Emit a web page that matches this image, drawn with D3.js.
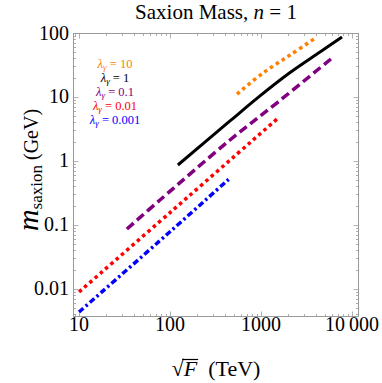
<!DOCTYPE html>
<html>
<head>
<meta charset="utf-8">
<script src="https://cdn.jsdelivr.net/npm/d3@7"></script>
<style>
  html, body { margin: 0; padding: 0; background: #fff; }
  svg { display: block; }
  text { font-family: "Liberation Serif", "Times New Roman", "DejaVu Serif", serif; }
</style>
</head>
<body>
<svg id="chart" width="382" height="383"></svg>
<script>
// sqrt(F) in TeV vs saxion mass in GeV
const lambda10 = [[545, 11.1], [1052, 23.7], [2086, 45.3], [4121, 86.6]];
const lambda1 = [[122, 0.866], [456, 4.22], [975, 10.4], [2086, 24.1], [4450, 50.5], [7762, 86.6]];
const lambda01 = [[33.6, 0.0866], [77.6, 0.246], [456, 2.13], [1538, 8.35], [6030, 40.6]];
const lambda001 = [[10, 0.00898], [105, 0.166], [1500, 4.53]];
const lambda0001 = [[10, 0.00436], [105, 0.0835], [445, 0.523]];

const seriesNames = ["10", "1", "0.1", "0.01", "0.001"];
const seriesData = [lambda10, lambda1, lambda01, lambda001, lambda0001];

const xTicks = [10, 100, 1000, 10000];
const xTickLabels = ["10", "100", "1000", "10\u2009000"];
const yTicks = [0.01, 0.1, 1, 10, 100];
const yTickLabels = ["0.01", "0.1", "1", "10", "100"];

const xDomain = [8.59, 11930];
const yDomain = [0.00365, 100];

// styling per series
const colors = ["#ff8000", "#000000", "#800080", "#ff0000", "#0000ff"];
const dashes = ["3.5,3.5", null, "9,4.5", "3.5,3.5", "6,3,2.5,3"];

const plot = { left: 73, right: 359, top: 33, bottom: 317 };
const svg = d3.select("#chart");
const serif = "'Liberation Serif', 'Times New Roman', 'DejaVu Serif', serif";

const x = d3.scaleLog().domain(xDomain).range([plot.left, plot.right]);
const y = d3.scaleLog().domain(yDomain).range([plot.bottom, plot.top]);

const frameColor = "#9a9a9a";

// minor + major ticks on all four sides (Mathematica frame style)
function minorsFor(domain) {
  const out = [];
  const lo = Math.floor(Math.log10(domain[0])), hi = Math.ceil(Math.log10(domain[1]));
  for (let e = lo; e <= hi; e++) {
    for (let m = 1; m <= 9; m++) {
      const v = m * Math.pow(10, e);
      if (v >= domain[0] && v <= domain[1]) out.push({ v, major: m === 1 });
    }
  }
  return out;
}

const ticksG = svg.append("g").attr("stroke", frameColor).attr("stroke-width", 0.8);
minorsFor(xDomain).forEach(t => {
  const len = t.major ? 5.5 : 3;
  const px = Math.round(x(t.v)) + 0.5;
  ticksG.append("line").attr("x1", px).attr("x2", px).attr("y1", plot.bottom).attr("y2", plot.bottom - len);
  ticksG.append("line").attr("x1", px).attr("x2", px).attr("y1", plot.top).attr("y2", plot.top + len);
});
minorsFor(yDomain).forEach(t => {
  const len = t.major ? 5.5 : 3;
  const py = Math.round(y(t.v)) + 0.5;
  ticksG.append("line").attr("x1", plot.left).attr("x2", plot.left + len).attr("y1", py).attr("y2", py);
  ticksG.append("line").attr("x1", plot.right).attr("x2", plot.right - len).attr("y1", py).attr("y2", py);
});

// frame
svg.append("rect")
  .attr("x", plot.left + 0.5).attr("y", plot.top + 0.5)
  .attr("width", plot.right - plot.left - 1).attr("height", plot.bottom - plot.top - 1)
  .attr("fill", "none").attr("stroke", frameColor).attr("stroke-width", 1);

// tick labels
svg.append("g").selectAll("text").data(xTicks).join("text")
  .attr("x", d => x(d)).attr("y", 331)
  .attr("text-anchor", "middle").attr("font-size", 20).attr("font-family", serif)
  .text((d, i) => xTickLabels[i]);

svg.append("g").selectAll("text").data(yTicks).join("text")
  .attr("x", 69).attr("y", d => y(d) + 6.5)
  .attr("text-anchor", "end").attr("font-size", 20).attr("font-family", serif)
  .text((d, i) => yTickLabels[i]);

// curves
const line = d3.line()
  .x(d => x(d[0])).y(d => y(d[1]))
  .curve(d3.curveCatmullRom.alpha(0.5));

const curvesG = svg.append("g");
seriesData.forEach((data, i) => {
  curvesG.append("path")
    .datum(data)
    .attr("d", line)
    .attr("fill", "none")
    .attr("stroke", colors[i])
    .attr("stroke-width", i === 1 ? 3 : 3.5)
    .attr("stroke-dasharray", dashes[i])
    .attr("stroke-linecap", "butt");
});

// legend
const legend = svg.append("g").attr("font-size", 12.5).attr("font-family", serif);
seriesNames.forEach((name, i) => {
  const t = legend.append("text")
    .attr("x", 115).attr("y", 68 + i * 14)
    .attr("text-anchor", "middle")
    .attr("fill", colors[i]);
  t.append("tspan").attr("font-style", "italic").text("\u03bb");
  t.append("tspan").attr("font-size", 9).attr("font-style", "italic").attr("dy", 2).text("\u03b3");
  t.append("tspan").attr("dy", -2).text(" = " + name);
});

// title
const title = svg.append("text")
  .attr("x", 216).attr("y", 19)
  .attr("text-anchor", "middle").attr("font-size", 21).attr("font-family", serif);
title.append("tspan").text("Saxion Mass, ");
title.append("tspan").attr("font-style", "italic").text("n");
title.append("tspan").text(" = 1");

// x axis title: sqrt(F) (TeV)
const xt = svg.append("text")
  .attr("x", 216).attr("y", 376)
  .attr("text-anchor", "middle").attr("font-size", 22).attr("font-family", serif);
xt.append("tspan").text("\u221a");
xt.append("tspan").attr("font-style", "italic").text("F");
xt.append("tspan").text("\u2002(TeV)");
// overline for the radical
const fBox = xt.node().getExtentOfChar(1);
const rootBox = xt.node().getExtentOfChar(0);
svg.append("line")
  .attr("x1", rootBox.x + rootBox.width - 1.5).attr("x2", fBox.x + fBox.width + 1)
  .attr("y1", rootBox.y + 3.5).attr("y2", rootBox.y + 3.5)
  .attr("stroke", "#000").attr("stroke-width", 1.2);

// y axis title
const yt = svg.append("text")
  .attr("transform", "translate(38,170) rotate(-90)")
  .attr("text-anchor", "middle").attr("font-family", serif);
yt.append("tspan").attr("font-style", "italic").attr("font-size", 30).text("m");
yt.append("tspan").attr("font-size", 17).attr("dy", 4).text("saxion");
yt.append("tspan").attr("font-size", 20).attr("dy", -4).text(" (GeV)");
</script>
</body>
</html>
